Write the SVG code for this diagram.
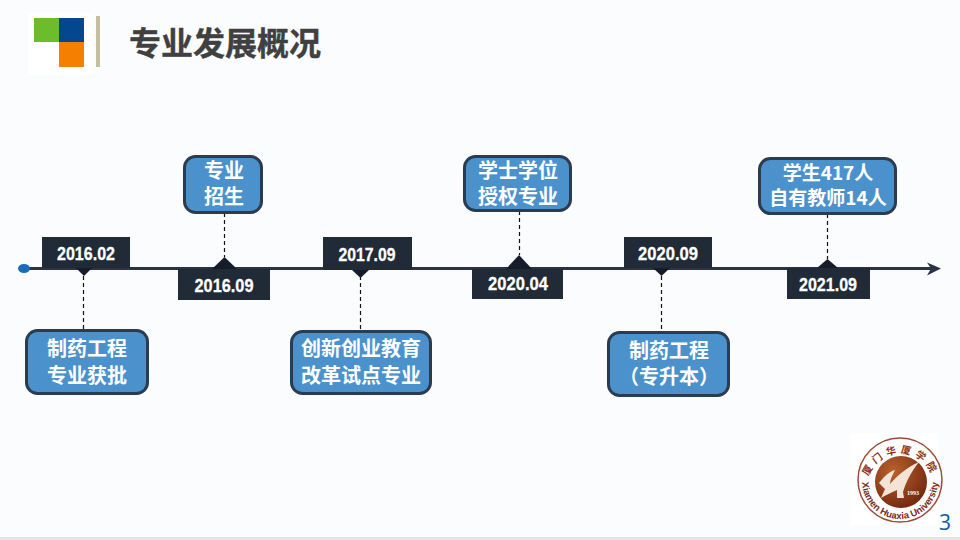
<svg xmlns="http://www.w3.org/2000/svg" xmlns:xlink="http://www.w3.org/1999/xlink" width="960" height="540" viewBox="0 0 960 540">
<style>
.t{font-family:"Noto Sans CJK SC","Liberation Sans",sans-serif;font-weight:700;font-size:20px;fill:#fff;text-anchor:middle}
.s{font-size:19px}
.d{font-family:"Liberation Sans","Noto Sans CJK SC",sans-serif;font-weight:700;font-size:19px;fill:#fff;text-anchor:middle;stroke:#fff;stroke-width:.3px}
.b{fill:#4b92cd;stroke:#2b3c50;stroke-width:3px}
.r{fill:#212a37}
.m{fill:#171c2b}
.c{stroke:#111;stroke-width:1.200;stroke-dasharray:4 3;fill:none}
</style>
<rect width="960" height="540" fill="#fbfcfd"/>
<rect y="537" width="960" height="3" fill="#e4e4e4"/>
<g id="header">
<rect x="28" y="14" width="66" height="60" fill="#fff"/>
<rect x="34" y="18" width="25" height="24" fill="#6cbd2e"/>
<rect x="59" y="18" width="25" height="24" fill="#03478f"/>
<rect x="59" y="42" width="25" height="25" fill="#f57f00"/>
<rect x="96" y="16" width="4" height="51" fill="#c5bd9f"/>
<text x="129" y="55" font-family="'Noto Sans CJK SC',sans-serif" font-weight="700" font-size="32" fill="#404040" stroke="#404040" stroke-width=".4">专业发展概况</text>
</g>
<g id="connectors">
<path d="M24 268.500H934" stroke="#2b3447" stroke-width="3" fill="none"/>
<path d="M927 262.500L941 268.500L927 275.500L931 268.500Z" fill="#2b3447"/>
<path class="c" d="M83.500 276V330M224.500 213V257M360.500 276V331M519.500 211V255M661.500 276V332M827.500 214V259"/>
</g>
<ellipse id="start" cx="24" cy="268.500" rx="6" ry="4.500" fill="#1a6cb5"/>
<g id="n1">
<rect class="r" x="42" y="237" width="88" height="31"/><path class="m" d="M76 268H92L84 276Z"/>
<text class="d" x="86" y="260" textLength="58" lengthAdjust="spacingAndGlyphs">2016.02</text>
<rect class="b" x="26.500" y="330.500" width="121" height="63" rx="11"/>
<text class="t" x="87" y="356">制药工程</text><text class="t" x="87" y="383">专业获批</text>
</g>
<g id="n2">
<path class="m" d="M212 269L224.500 257L237 269Z"/>
<rect class="r" x="178" y="269" width="92" height="31"/>
<text class="d" x="224" y="292" textLength="59" lengthAdjust="spacingAndGlyphs">2016.09</text>
<rect class="b" x="184.500" y="156.500" width="77" height="56" rx="11"/>
<text class="t" x="224" y="178">专业</text><text class="t" x="224" y="204">招生</text>
</g>
<g id="n3">
<rect class="r" x="323" y="237" width="89" height="33"/><path class="m" d="M352 270H369L360.500 278Z"/>
<text class="d" x="367" y="261" textLength="57" lengthAdjust="spacingAndGlyphs">2017.09</text>
<rect class="b" x="291.500" y="331.500" width="139" height="62" rx="11"/>
<text class="t" x="361" y="356">创新创业教育</text><text class="t" x="361" y="383">改革试点专业</text>
</g>
<g id="n4">
<path class="m" d="M506 269L519 255L532 269Z"/>
<rect class="r" x="472" y="269" width="91" height="30"/>
<text class="d" x="518" y="290" textLength="60" lengthAdjust="spacingAndGlyphs">2020.04</text>
<rect class="b" x="464.500" y="156.500" width="106" height="54" rx="11"/>
<text class="t" x="518" y="178">学士学位</text><text class="t" x="518" y="204">授权专业</text>
</g>
<g id="n5">
<rect class="r" x="624" y="237" width="88" height="31"/><path class="m" d="M653 268H670L661.500 276Z"/>
<text class="d" x="668" y="260" textLength="60" lengthAdjust="spacingAndGlyphs">2020.09</text>
<rect class="b" x="608.500" y="332.500" width="120" height="63" rx="11"/>
<text class="t" x="669" y="358">制药工程</text><text class="t" x="669" y="384">（专升本）</text>
</g>
<g id="n6">
<path class="m" d="M817 268L827.500 259L838 268Z"/>
<rect class="r" x="787" y="268" width="83" height="31"/>
<text class="d" x="828" y="291" textLength="58" lengthAdjust="spacingAndGlyphs">2021.09</text>
<rect class="b" x="759.500" y="158.500" width="136" height="55" rx="11"/>
<text class="t s" x="828" y="180">学生417人</text><text class="t s" x="828" y="205">自有教师14人</text>
</g>
<g id="logo">
<defs>
<path id="arcT" d="M867 487A33 33 0 0 1 934 487"/>
<path id="arcB" d="M862 481A38 38 0 0 0 938 481"/>
<radialGradient id="rg" cx=".35" cy=".3" r=".85"><stop offset="0" stop-color="#b8622c"/><stop offset="1" stop-color="#6b200c"/></radialGradient>
</defs>
<rect x="850" y="433" width="88" height="93" fill="#fff"/>
<circle cx="900" cy="480" r="42" fill="#fff" stroke="#9a4a38" stroke-width="1.500"/>
<circle cx="901" cy="482" r="26" fill="url(#rg)"/>
<path d="M879 483C886 474 891 471 895 470C892 476 890 480 890 484C897 476 906 468 919 462C911 472 906 482 903 492L904 498L897 498L897 490C892 492 886 495 881 498L885 489Z" fill="#f3e4d6"/>
<text font-family="'Noto Sans CJK SC',sans-serif" font-size="10" font-weight="700" fill="#8e2f20"><textPath xlink:href="#arcT" href="#arcT" startOffset="50%" text-anchor="middle" letter-spacing="4">厦门华厦学院</textPath></text>
<text font-family="'Liberation Sans',sans-serif" font-size="9.500" font-weight="700" fill="#7c2a1c"><textPath xlink:href="#arcB" href="#arcB" startOffset="50%" text-anchor="middle">Xiamen Huaxia University</textPath></text>
<text x="913" y="495" font-family="'Liberation Serif',serif" font-size="6" font-weight="700" fill="#fff" text-anchor="middle">1993</text>
</g>
<text id="page" x="945" y="530" font-family="'Open Sans',sans-serif" font-size="21" fill="#0f5d9c" text-anchor="middle">3</text>
</svg>
